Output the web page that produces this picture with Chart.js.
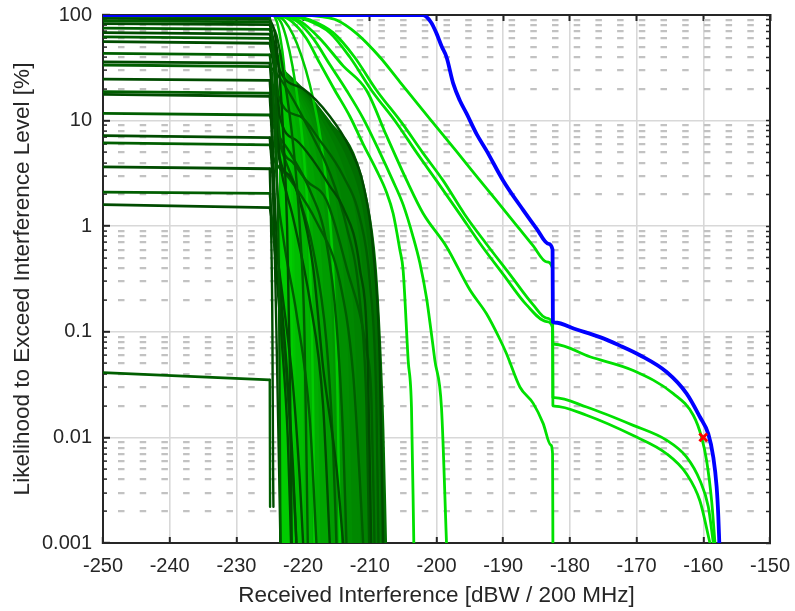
<!DOCTYPE html>
<html>
<head>
<meta charset="utf-8">
<script src="https://cdn.jsdelivr.net/npm/chart.js"></script>
<style>html,body{margin:0;padding:0;background:#fff}canvas{display:block}</style>
</head>
<body>
<canvas id="c" width="795" height="611"></canvas>
<script>
// ---------- axis ticks ----------
const xTickValues = [-250,-240,-230,-220,-210,-200,-190,-180,-170,-160,-150];
const xTickLabels = ['-250','-240','-230','-220','-210','-200','-190','-180','-170','-160','-150'];
const yMajorValues = [0.001,0.01,0.1,1,10,100];
const yTickLabels = ['0.001','0.01','0.1','1','10','100'];
const yMinorMultipliers = [2,3,4,5,6,7,8,9];

// ---------- series (x = dBW/200MHz, y = %) ----------
const blueLine = [[-250,100],[-202,100],[-200.8,85],[-200,67],[-199.2,50],[-198.5,40],[-197.5,22.5],[-196.5,15.5],[-195.5,11.7],[-194,7.5],[-192.5,5.2],[-190,2.7],[-187,1.42],[-185,0.95],[-183.2,0.68],[-182.6,0.6],[-182.55,0.124],[-182.3,0.1225],[-179,0.105],[-175.5,0.089],[-172.5,0.074],[-169.5,0.060],[-165.5,0.0416],[-162.5,0.026],[-160.5,0.0156],[-159.25,0.0108],[-158.5,0.0065],[-158,0.0034],[-157.75,0.0018],[-157.6,0.001]];
const markerPoint = [[-160,0.01]];

const brightE = [[-224,100],[-222,90],[-219.5,60],[-217.5,35],[-215.25,19.4],[-213,11],[-211,6],[-209,3.4],[-207.5,2.1],[-206.5,1.32],[-205.5,0.6],[-205,0.38],[-204.25,0.054],[-203.75,0.019],[-203.4,0.001]];
const brightF = [[-223.5,100],[-221,88],[-218.5,60],[-216,34],[-213.5,19.4],[-211,10.5],[-208.5,5],[-206.55,2.7],[-205,1.6],[-203.5,0.79],[-202.5,0.45],[-201.5,0.21],[-200.8,0.1],[-200.25,0.054],[-199.25,0.019],[-198.5,0.001]];
const brightD = [[-223,100],[-220.5,88],[-217.5,60],[-214,33],[-210.5,19.4],[-207.5,7.2],[-204.45,2.7],[-202,1.32],[-198.5,0.64],[-195,0.25],[-192.5,0.148],[-190.5,0.085],[-189.5,0.062],[-187.5,0.030],[-185.5,0.021],[-184,0.0135],[-182.9,0.0085],[-182.6,0.007],[-182.55,0.001]];
const brightP1 = [[-222.5,100],[-219.5,90],[-216,68],[-213,40],[-209.75,19.4],[-206,9.5],[-203,5],[-200,2.7],[-196.5,1.3],[-193.5,0.69],[-190,0.35],[-186.5,0.18],[-183.5,0.125],[-182.6,0.11],[-182.55,0.077],[-182.3,0.0762],[-177,0.058],[-170.5,0.043],[-164.5,0.026],[-161.5,0.0162],[-160.25,0.01],[-159.5,0.006],[-158.75,0.0025],[-158.25,0.001]];
const brightP2 = [[-222,100],[-219,90],[-215.5,68],[-212.3,40],[-209,19.4],[-205.2,9.5],[-202.1,5],[-199,2.7],[-195.8,1.3],[-192.6,0.69],[-189,0.35],[-185.5,0.18],[-183.5,0.135],[-182.6,0.12],[-182.55,0.024],[-182.3,0.0238],[-177.5,0.0194],[-170.5,0.013],[-165.5,0.0094],[-162.5,0.0065],[-160.5,0.0039],[-159.25,0.0022],[-158.5,0.001]];
const brightA = [[-219.5,100],[-217,96],[-215,89.7],[-212,67],[-208.5,40],[-205.5,23.3],[-201,10.4],[-197,5.1],[-193,2.49],[-189,1.22],[-185.5,0.65],[-183.5,0.46],[-182.6,0.4],[-182.55,0.020],[-182.3,0.0198],[-177.5,0.0162],[-170.5,0.0104],[-165.5,0.007],[-162.5,0.0045],[-160.5,0.0025],[-159,0.001]];

const fanLines = [
  [[-224.4,100],[-223.9,85],[-223.4,60],[-222.9,35],[-222.4,12],[-222,2],[-221.7,0.1],[-221.5,0.001]],
  [[-224.2,100],[-223.3,85],[-222.5,60],[-221.6,33],[-220.7,14],[-219.8,4],[-219,0.5],[-218.5,0.02],[-218.3,0.001]],
  [[-224,100],[-222.8,88],[-221.5,65],[-220.3,42],[-219,22],[-217.7,9],[-216.5,2.5],[-215.5,0.4],[-214.8,0.02],[-214.5,0.001]]
];

const darkLines = [
  [[-250,97],[-225,96],[-224.6,60],[-224.2,20],[-223.9,3],[-223.6,0.2],[-223.4,0.001]],
  [[-250,93],[-225,91],[-224.3,70],[-223.6,30],[-223,8],[-222.4,1],[-222,0.05],[-221.7,0.001]],
  [[-250,88],[-225,86],[-224,65],[-223,30],[-221.5,6],[-220.5,1],[-219.8,0.1],[-219.3,0.001]],
  [[-250,83],[-225,81],[-224.2,50],[-223.5,30],[-220,20],[-216,11],[-213,5.5],[-211,2.5],[-209.5,0.6],[-208.5,0.05],[-208,0.001]],
  [[-250,75],[-225,73],[-224.2,45],[-223.7,17],[-220.5,11],[-217.5,6.5],[-214,3],[-211.5,1.2],[-210,0.3],[-209,0.02],[-208.7,0.001]],
  [[-250,68],[-225,66],[-224.2,40],[-223.5,11],[-221,6.5],[-218.5,4.2],[-216,2.4],[-214,1.5],[-211.5,0.4],[-210.3,0.05],[-209.8,0.001]],
  [[-250,62],[-225,60],[-224.2,30],[-223.5,7],[-221.5,4],[-219.5,2.7],[-216.5,1.76],[-213.5,0.41],[-210.5,0.066],[-209.75,0.022],[-209.3,0.001]],
  [[-250,56],[-225,54],[-224.2,25],[-223.5,4.5],[-222,3],[-220.5,1.76],[-218.5,0.41],[-217,0.046],[-215,0.0052],[-214,0.001]],
  [[-250,43.3],[-225,42],[-224.5,20],[-224,3],[-223,0.8],[-221,0.15],[-219,0.015],[-218,0.001]],
  [[-250,36],[-225,35],[-224.5,14],[-223.5,4],[-221.5,1.2],[-219,0.2],[-217,0.02],[-216,0.001]],
  [[-250,33.6],[-225,32.5],[-224,28],[-222,18],[-219,8],[-216,3.2],[-213.5,1],[-211.5,0.2],[-210.5,0.02],[-210.1,0.001]],
  [[-250,24.7],[-225,24],[-224.6,8],[-224.2,1.5],[-223.5,0.3],[-222.5,0.05],[-221.5,0.005],[-221,0.001]],
  [[-250,18.8],[-225,18.2],[-224.5,11],[-223.5,6],[-221,2.2],[-218.5,0.6],[-216.5,0.08],[-215.5,0.008],[-215,0.001]],
  [[-250,17.7],[-225,17],[-224.6,5],[-224.3,0.8],[-224,0.1],[-223.6,0.005],[-223.4,0.001]],
  [[-250,11.7],[-225,11.3],[-224.5,9],[-222,5],[-219,2.2],[-216.5,0.7],[-215,0.12],[-214,0.01],[-213.5,0.001]],
  [[-250,7.2],[-225,6.9],[-224.6,3],[-224.2,0.6],[-223.3,0.1],[-222.3,0.01],[-221.8,0.001]],
  [[-250,6.15],[-225,5.9],[-224.5,4.5],[-222,2.8],[-218,1.1],[-214.5,0.3],[-212.5,0.04],[-211.5,0.004],[-211,0.001]],
  [[-250,3.65],[-225,3.5],[-224.8,1],[-224.6,0.1],[-224.5,0.005],[-224.45,0.0022]],
  [[-250,2.1],[-225,2.05],[-224.6,1],[-223.8,0.3],[-222.5,0.04],[-221.5,0.004],[-221,0.001]],
  [[-250,1.6],[-225,1.5],[-224.3,0.8],[-223,0.2],[-221.5,0.03],[-220.5,0.004],[-220,0.001]],
  [[-250,0.041],[-225,0.035],[-224.95,0.0022]]
];

// dense family of curves (inner -> outer)
const massCurves = [
  [[-223.4,45.7],[-223.07,25.4],[-222.83,12.6],[-222.63,4.8],[-222.47,0.86],[-222.36,0.053],[-222.3,0.001]],
  [[-223.5,42.7],[-222.81,23.7],[-222.3,11.9],[-221.89,4.55],[-221.55,0.83],[-221.32,0.052],[-221.2,0.001]],
  [[-223.6,40.7],[-223.15,22.7],[-222.16,11.4],[-221.35,4.39],[-220.68,0.80],[-220.23,0.051],[-220,0.001]],
  [[-223.6,39.8],[-222.79,22.2],[-221.54,11.2],[-220.51,4.3],[-219.66,0.79],[-219.09,0.050],[-218.8,0.001]],
  [[-223.6,38.9],[-222.43,21.8],[-220.91,11.0],[-219.67,4.2],[-218.64,0.78],[-217.95,0.050],[-217.6,0.001]],
  [[-223.6,38.0],[-222.07,21.3],[-220.29,10.7],[-218.83,4.15],[-217.62,0.77],[-216.81,0.0495],[-216.4,0.001]],
  [[-223.6,37.2],[-221.71,20.8],[-219.66,10.5],[-217.99,4.07],[-216.6,0.76],[-215.67,0.049],[-215.2,0.001]],
  [[-223.6,35.9],[-221.35,20.2],[-219.04,10.2],[-217.15,3.96],[-215.58,0.74],[-214.53,0.049],[-214,0.001]],
  [[-223.6,34.7],[-220.99,19.5],[-218.42,9.9],[-216.31,3.86],[-214.56,0.72],[-213.39,0.048],[-212.8,0.001]],
  [[-223.6,33.9],[-220.63,19.1],[-217.79,9.7],[-215.47,3.8],[-213.54,0.71],[-212.25,0.048],[-211.6,0.001]],
  [[-223.6,33.1],[-220.27,18.6],[-217.17,9.5],[-214.4,4.0],[-212.3,1.3],[-211.1,0.3],[-210.3,0.04],[-209.8,0.005],[-209.5,0.001]],
  [[-223.6,32.7],[-219.91,18.4],[-216.54,9.4],[-213.5,4.2],[-211.3,1.5],[-210,0.35],[-209.3,0.06],[-208.8,0.008],[-208.5,0.001]],
  [[-223.6,32.4],[-219.49,18.2],[-215.82,9.3],[-212.5,4.9],[-210.5,1.76],[-209.2,0.45],[-208.5,0.08],[-208,0.012],[-207.6,0.001]]
];
const massColors = ['#00cc00','#00c400','#00bc00','#00b400','#00ac00','#00a400','#009c00','#009400','#008e00','#008800','#008200','#007a00','#006e00'];

// ---------- build ----------
const FONT = "'Liberation Sans', Arial, Helvetica, sans-serif";
const TXT = '#262626';
Chart.defaults.font.family = FONT;
Chart.defaults.color = TXT;

const yMinorValues = yMajorValues.slice(0, -1).flatMap(d => yMinorMultipliers.map(m => +(d * m).toPrecision(3)));
const yAllValues = yMajorValues.concat(yMinorValues).sort((a, b) => a - b);

function ds(pts, color, width, extra) {
  return Object.assign({
    data: pts.map(p => ({x: p[0], y: p[1]})),
    borderColor: color, backgroundColor: color, borderWidth: width,
    pointRadius: 0, pointHoverRadius: 0, fill: false,
    cubicInterpolationMode: 'monotone',
    borderJoinStyle: 'round', borderCapStyle: 'round'
  }, extra || {});
}

const BRIGHT = '#00e000';
const datasets = [];
datasets.push({
  data: markerPoint.map(p => ({x: p[0], y: p[1]})),
  showLine: false, pointStyle: 'crossRot', pointRadius: 5.5, pointBorderWidth: 3,
  borderColor: '#ff0000', backgroundColor: '#ff0000', pointBorderColor: '#ff0000'
});
datasets.push(ds(blueLine, '#0000ff', 3.8));
[brightP1, brightP2, brightA, brightD, brightF, brightE].forEach(l => datasets.push(ds(l, BRIGHT, 2.8)));
darkLines.forEach((l, i) => {
  const c = i % 2 ? '#004c00' : '#005e00';
  datasets.push(ds(l.slice(0, 2), c, 2.8, {cubicInterpolationMode: 'default', tension: 0}));
  datasets.push(ds(l.slice(1), c, 2.4));
});
fanLines.forEach(l => datasets.push(ds(l, '#00cc00', 2.5)));
massCurves.forEach((l, i) => datasets.push(ds(l, massColors[i], 2.5, {fill: 'start'})));

const noPad = s => { s.paddingTop = 0; s.paddingBottom = 0; s.paddingLeft = 0; s.paddingRight = 0; };
const hidden = {display: false};
new Chart(document.getElementById('c'), {
  type: 'line',
  data: {datasets},
  options: {
    responsive: false, animation: false, devicePixelRatio: 1, events: [],
    layout: {padding: 0},
    plugins: {legend: hidden, tooltip: {enabled: false}},
    scales: {
      x: {
        type: 'linear', position: 'bottom', min: -250, max: -150,
        afterBuildTicks: s => { s.ticks = xTickValues.map(v => ({value: v})); },
        afterFit: s => { s.height = 68; noPad(s); },
        ticks: {autoSkip: false, maxRotation: 0, padding: 17, font: {size: 20}, color: TXT,
                callback: (v, i) => xTickLabels[i]},
        grid: {color: '#d8d8d8', lineWidth: 1.6, tickLength: -6, tickColor: TXT, tickWidth: 2},
        border: {color: TXT, width: 2},
        title: {display: true, text: 'Received Interference [dBW / 200 MHz]', color: TXT,
                font: {size: 22.5}, padding: {top: 0, bottom: 2}}
      },
      xTop: {
        type: 'linear', position: 'top', min: -250, max: -150,
        afterBuildTicks: s => { s.ticks = xTickValues.map(v => ({value: v})); },
        afterFit: s => { s.height = 15; noPad(s); },
        ticks: {display: false},
        grid: {drawOnChartArea: false, tickLength: -6, tickColor: TXT, tickWidth: 2},
        border: {color: TXT, width: 2}
      },
      y: {
        type: 'logarithmic', position: 'left', min: 0.001, max: 100, weight: 2,
        afterBuildTicks: s => { s.ticks = yMajorValues.map(v => ({value: v, major: true})); },
        afterFit: s => { s.width = 103; noPad(s); },
        ticks: {autoSkip: false, padding: 18, font: {size: 20}, color: TXT,
                callback: (v, i) => yTickLabels[i]},
        grid: {color: '#d8d8d8', lineWidth: 1.6, tickLength: -7, tickColor: TXT, tickWidth: 2},
        border: {color: TXT, width: 2},
        title: {display: true, text: 'Likelihood to Exceed Interference Level [%]', color: TXT,
                font: {size: 22.5}, padding: {top: 9, bottom: 0}}
      },
      yMinor: {
        type: 'logarithmic', position: 'left', min: 0.001, max: 100, weight: 1,
        afterBuildTicks: s => { s.ticks = yMinorValues.map(v => ({value: v})); },
        afterFit: s => { s.width = 0; noPad(s); },
        ticks: {display: false},
        grid: {color: '#c2c2c2', lineWidth: 2.2, tickLength: -4, tickColor: TXT, tickWidth: 1.5},
        border: {display: false, dash: [6.5, 15.2], dashOffset: 6.7}
      },
      yRight: {
        type: 'logarithmic', position: 'right', min: 0.001, max: 100,
        afterBuildTicks: s => { s.ticks = yAllValues.map(v => ({value: v})); },
        afterFit: s => { s.width = 25; noPad(s); },
        ticks: {display: false},
        grid: {drawOnChartArea: false, tickLength: -4, tickColor: TXT, tickWidth: 1.5},
        border: {color: TXT, width: 2}
      }
    }
  }
});
</script>
</body>
</html>
